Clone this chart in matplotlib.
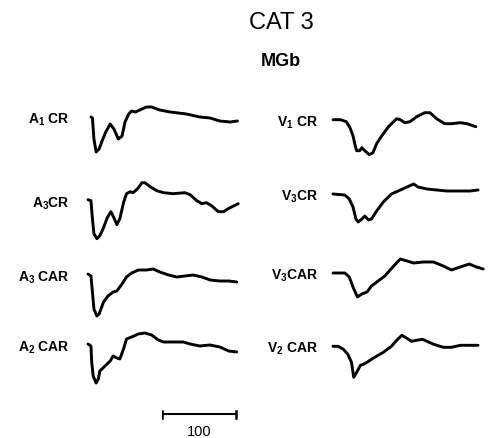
import numpy as np
import matplotlib
matplotlib.use("Agg")
import matplotlib.pyplot as plt

plt.rcParams.update({
    "font.family": ["Liberation Sans", "DejaVu Sans"],
    "mathtext.fontset": "custom",
    "mathtext.rm": "Liberation Sans:bold",
    "mathtext.bf": "Liberation Sans:bold",
    "mathtext.it": "Liberation Sans:bold",
    "mathtext.default": "rm",
})

# ---- evoked responses, MGb, cat 3 (time in ms, amplitude in arbitrary units, negative down) ----
a1_cr_t = [4, 6, 8, 11, 15, 19, 24, 30, 35, 41, 46, 50, 55, 59, 64, 70, 79, 86, 97, 111, 133, 151, 165, 178, 192, 202]
a1_cr_v = [0, -1, -22, -35, -32, -24, -15, -7, -12, -22, -19, -5, 3, 6, 5, 7, 10, 10, 7, 5, 3, 0, -1, -4, -5, -4]

a3_cr_t = [0, 4, 6, 8, 12, 16, 21, 26, 31, 35, 39, 43, 48, 52, 57, 61, 67, 73, 77, 84, 93, 102, 115, 131, 138, 147, 154, 160, 167, 176, 183, 192, 203]
a3_cr_v = [1, 0, -18, -33, -38, -35, -27, -17, -11, -17, -24, -18, -2, 7, 9, 8, 12, 18, 18, 14, 10, 8, 7, 8, 6, 0, -3, -2, -5, -11, -11, -7, -3]

a3_car_t = [0, 4, 6, 8, 12, 15, 21, 27, 34, 39, 46, 52, 59, 68, 79, 88, 97, 109, 120, 131, 142, 154, 165, 178, 190, 201]
a3_car_v = [1, -1, -17, -34, -41, -39, -27, -21, -17, -16, -9, -2, 2, 5, 5, 6, 3, 0, -2, -1, 0, -2, -5, -6, -6, -7]

a2_car_t = [0, 4, 5, 7, 11, 14, 16, 23, 30, 34, 39, 43, 48, 52, 59, 68, 77, 86, 95, 102, 115, 129, 138, 151, 165, 178, 190, 201]
a2_car_v = [1, -1, -17, -31, -38, -34, -26, -21, -16, -11, -13, -14, -4, 6, 8, 11, 12, 10, 5, 3, 3, 3, 1, -1, 0, -2, -6, -7]

v1_cr_t = [0, 10, 18, 23, 27, 30, 32, 36, 39, 43, 49, 54, 59, 66, 75, 86, 91, 97, 104, 113, 124, 131, 140, 151, 160, 172, 181, 193]
v1_cr_v = [0, 0, -2, -8, -16, -26, -31, -31, -28, -31, -35, -33, -24, -16, -7, 1, 0, -3, -2, 3, 7, 7, 1, -4, -4, -3, -4, -7]

v3_cr_t = [0, 16, 22, 27, 31, 34, 39, 43, 48, 52, 59, 68, 79, 91, 100, 109, 115, 127, 140, 154, 172, 185, 196]
v3_cr_v = [0, -1, -5, -13, -25, -28, -25, -22, -26, -25, -17, -8, 0, 4, 7, 10, 7, 5, 4, 3, 3, 3, 4]

v3_car_t = [0, 16, 22, 27, 33, 39, 46, 52, 61, 70, 82, 91, 100, 109, 122, 136, 149, 160, 172, 184, 194, 203]
v3_car_v = [0, 0, -4, -14, -24, -21, -19, -13, -8, -3, 7, 14, 12, 10, 11, 11, 7, 3, 6, 9, 6, 4]

v2_car_t = [0, 7, 14, 20, 25, 28, 32, 37, 41, 46, 54, 68, 79, 86, 93, 100, 106, 113, 121, 127, 136, 149, 160, 172, 183, 196]
v2_car_v = [0, 0, -3, -8, -16, -31, -26, -19, -18, -16, -12, -6, 0, 6, 11, 8, 5, 6, 7, 5, 2, -1, -1, 1, 1, 1]

left_labels = [r"A$_1$ CR", r"A$_3$CR", r"A$_3$ CAR", r"A$_2$ CAR"]
right_labels = [r"V$_1$ CR", r"V$_3$CR", r"V$_3$CAR", r"V$_2$ CAR"]
left_traces = [(a1_cr_t, a1_cr_v), (a3_cr_t, a3_cr_v), (a3_car_t, a3_car_v), (a2_car_t, a2_car_v)]
right_traces = [(v1_cr_t, v1_cr_v), (v3_cr_t, v3_cr_v), (v3_car_t, v3_car_v), (v2_car_t, v2_car_v)]

scale_ms = 100
scale_label = "100"

# ---- layout (pixels) ----
W, H, DPI = 491, 439, 100
PX_PER_MS = 0.74
PX_PER_UNIT = 1.0
T_LIM = (-5, 210)
V_LIM = (-45, 25)
col_x0 = [88, 333]
left_rows = [118, 201.7, 276, 346]
right_rows = [120.7, 195, 274, 347.3]
label_right = [70, 318]
LW = 2.1

fig = plt.figure(figsize=(W / DPI, H / DPI), dpi=DPI)
fig.patch.set_facecolor("white")


def trace_axes(x0, y0):
    left = x0 + T_LIM[0] * PX_PER_MS
    width = (T_LIM[1] - T_LIM[0]) * PX_PER_MS
    height = (V_LIM[1] - V_LIM[0]) * PX_PER_UNIT
    top = y0 - V_LIM[1] * PX_PER_UNIT
    ax = fig.add_axes([left / W, 1 - (top + height) / H, width / W, height / H])
    ax.set_xlim(*T_LIM)
    ax.set_ylim(*V_LIM)
    ax.axis("off")
    return ax


for col, (rows, traces, labels) in enumerate([(left_rows, left_traces, left_labels),
                                              (right_rows, right_traces, right_labels)]):
    for y0, (t, v), lab in zip(rows, traces, labels):
        ax = trace_axes(col_x0[col], y0)
        ax.plot(t, v, color="black", lw=LW, solid_joinstyle="round", solid_capstyle="round")
        fig.text(label_right[col] / W, 1 - (y0 + 5.5) / H, lab, ha="right", va="baseline",
                 fontsize=10, fontweight="bold")

# time scale bar
sb_x0, sb_y = 161.7, 415
sb_ax = fig.add_axes([sb_x0 / W, 1 - (sb_y + 10) / H, 120 * PX_PER_MS / W, 20 / H])
sb_ax.set_xlim(0, 120)
sb_ax.set_ylim(-10, 10)
sb_ax.axis("off")
sb_ax.plot([0, scale_ms], [0, 0], color="black", lw=1.5)
for xe in (0, scale_ms):
    sb_ax.plot([xe, xe], [-3.5, 3.5], color="black", lw=1.8)
fig.text((sb_x0 + scale_ms / 2 * PX_PER_MS) / W, 1 - 432 / H, scale_label, ha="center", va="center",
         fontsize=10.5)

# titles
fig.text(281 / W, 1 - 23 / H, "CAT 3", ha="center", va="center", fontsize=17)
fig.text(281 / W, 1 - 61 / H, "MGb", ha="center", va="center", fontsize=13, fontweight="bold")

fig.savefig("out.png", dpi=DPI, facecolor="white")
